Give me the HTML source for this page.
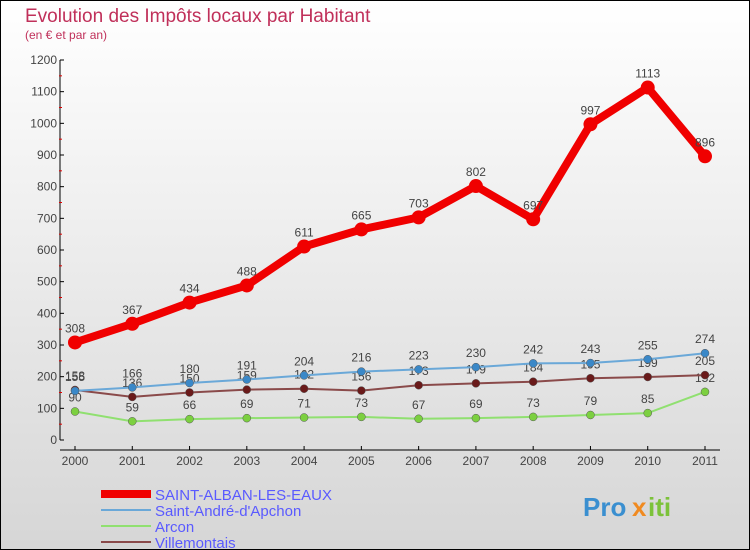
<!DOCTYPE html>
<html><head><meta charset="utf-8"><style>
body{margin:0}
#c{width:748px;height:548px;border:1px solid #000;background:linear-gradient(#fff,#d6d6d6);position:relative;overflow:hidden;font-family:"Liberation Sans",sans-serif}
</style></head><body>
<div id="c">
<svg id="s" width="748" height="548" viewBox="1 1 748 548" style="position:absolute;left:0;top:0" font-family="Liberation Sans, sans-serif">
<text x="25" y="22" font-size="19" fill="#c0305a">Evolution des Impôts locaux par Habitant</text>
<text x="25" y="39" font-size="12" fill="#c0305a">(en € et par an)</text>
<g id="axes"></g><g id="series"></g><g id="legend"></g>
<g font-size="26" font-weight="bold">
<text x="583" y="516" fill="#3a8fd0">Pro</text><text x="632" y="516" fill="#f08a20">x</text><text x="648" y="516" fill="#7cc23a">iti</text>
</g>
</svg>
</div>
<script>
const years=[2000,2001,2002,2003,2004,2005,2006,2007,2008,2009,2010,2011];
const yTicks=[0,100,200,300,400,500,600,700,800,900,1000,1100,1200];
const stAlban=[308,367,434,488,611,665,703,802,697,997,1113,896];
const stAndre=[155,166,180,191,204,216,223,230,242,243,255,274];
const arcon=[90,59,66,69,71,73,67,69,73,79,85,152];
const villemontais=[158,136,150,159,162,156,173,179,184,195,199,205];
const NS="http://www.w3.org/2000/svg";
const X=i=>75+i*(630/11), Y=v=>440-v*(380/1200);
function mk(t,a,p){const e=document.createElementNS(NS,t);for(const k in a)e.setAttribute(k,a[k]);p.appendChild(e);return e;}
const ax=document.getElementById('axes');
let l=mk('line',{x1:60,y1:60,x2:60,y2:440,stroke:'#000'},ax);


l=mk('line',{x1:60,y1:450,x2:720,y2:450,stroke:'#000'},ax);


yTicks.forEach((v,i)=>{
 mk('line',{x1:60,y1:Y(v),x2:64,y2:Y(v),stroke:'#000'},ax);
 if(i<yTicks.length-1)mk('line',{x1:59,y1:Y(v+50),x2:62,y2:Y(v+50),stroke:'#d00'},ax);
 const t=mk('text',{x:57,y:Y(v)+4,'font-size':12,fill:'#444','text-anchor':'end'},ax);t.textContent=v;
 
 
});
years.forEach((y,i)=>{
 mk('line',{x1:X(i),y1:446,x2:X(i),y2:450,stroke:'#000'},ax);
 const t=mk('text',{x:X(i),y:465,'font-size':12,fill:'#444','text-anchor':'middle'},ax);t.textContent=y;
 
 
});
const sg=document.getElementById('series');
const defs=[
 {d:arcon,c:'#90e070',f:'#7cd040',w:2,r:4,n:'arcon'},
 {d:villemontais,c:'#8a4a4a',f:'#6a1a1a',w:2,r:4,n:'villemontais'},
 {d:stAndre,c:'#6aa8d8',f:'#3a88c8',w:2,r:4,n:'saint-andre'},
 {d:stAlban,c:'#f00000',f:'#f00000',w:8,r:7,n:'saint-alban'}];
defs.forEach(s=>{
 const g=mk('g',{},sg);
 
 
 const p=mk('polyline',{points:s.d.map((v,i)=>X(i)+','+Y(v)).join(' '),fill:'none',stroke:s.c,'stroke-width':s.w,'stroke-linejoin':'round'},g);
 
 
 s.d.forEach((v,i)=>{
  const c=mk('circle',{cx:X(i),cy:Y(v),r:s.r,fill:s.f,stroke:s.w>2?'none':'#555','stroke-width':0.5},g);
  
  
  const t=mk('text',{x:X(i),y:Y(v)-10,'font-size':12,fill:'#444','text-anchor':'middle'},g);t.textContent=v;
  
  
 });
});
const lg=document.getElementById('legend');
[['SAINT-ALBAN-LES-EAUX','#f00000',8],['Saint-André-d\'Apchon','#6aa8d8',2],['Arcon','#90e070',2],['Villemontais','#8a4a4a',2]].forEach((e,i)=>{
 const y=494+i*16;
 const g=mk('g',{},lg);
 
 
 mk('line',{x1:101,y1:y,x2:151,y2:y,stroke:e[1],'stroke-width':e[2]},g);
 const t=mk('text',{x:155,y:y+6,'font-size':15,fill:'#5a5aff',textLength:e[0]==='SAINT-ALBAN-LES-EAUX'?177:null},g);
 if(e[0]!=='SAINT-ALBAN-LES-EAUX')t.removeAttribute('textLength');
 t.textContent=e[0];
});
</script>
</body></html>
